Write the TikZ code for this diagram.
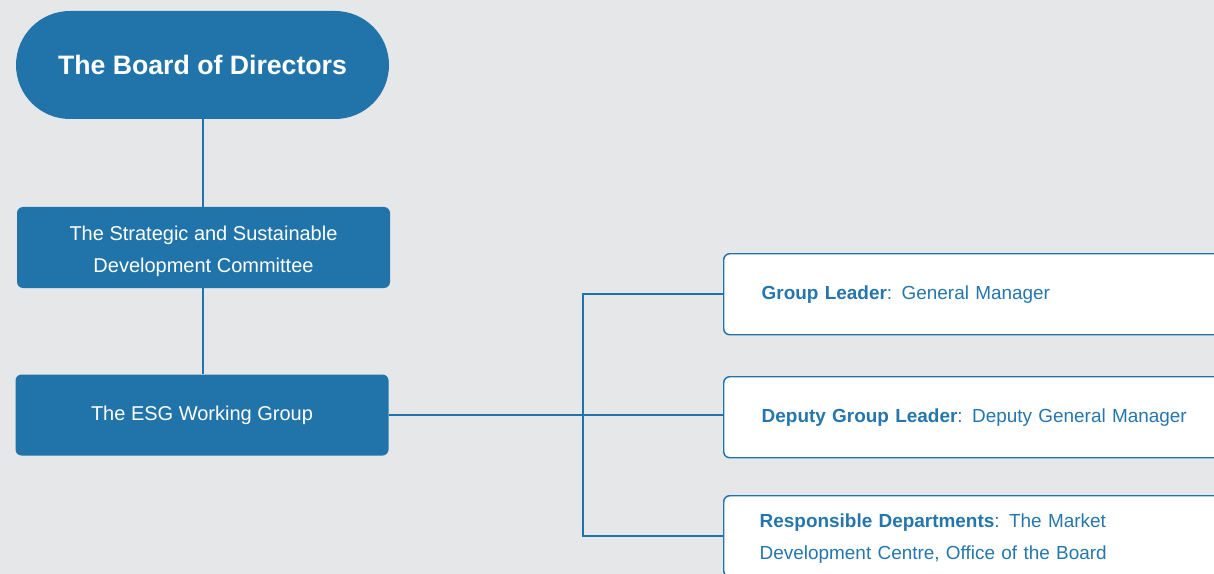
\documentclass[tikz,border=0pt]{standalone}
\usepackage{fontspec}
\setmainfont{Liberation Sans}

\definecolor{esgblue}{HTML}{2174A9}
\definecolor{esgback}{HTML}{E6E7E9}
\definecolor{esgtext}{HTML}{2576AC}

\def\px{0.75pt}

\tikzset{
  bluebox/.style={fill=esgblue, text=white, rounded corners=4.5pt, inner sep=0pt,
    minimum width=373*\px, minimum height=81*\px, align=center,
    font=\fontsize{15}{24}\selectfont},
  boardbox/.style={bluebox, rounded corners=40.5pt, minimum height=108*\px,
    font=\fontsize{20}{24}\selectfont\bfseries},
  rolebox/.style={draw=esgblue, line width=1.1pt, fill=white, text=esgtext,
    rounded corners=4.5pt, anchor=north west, inner xsep=38*\px, inner ysep=0pt,
    text width=484*\px, minimum height=81*\px, align=left,
    font=\fontsize{14.2}{23.5}\selectfont},
  link/.style={draw=esgblue, line width=1.5pt}
}

\begin{document}
\begin{tikzpicture}[x=\px,y=-\px]

  \clip (0,0) rectangle (1214,574);
  \fill[esgback] (0,0) rectangle (1214,574);

  \coordinate (fork) at (583,416);

  \node[boardbox] (board) at (202.5,65) {The Board of Directors};
  \node[bluebox] (committee) at (203.5,247.5) {\rule{0pt}{16pt}The Strategic and Sustainable\\Development Committee};
  \node[bluebox] (esg) at (202,415) {The ESG Working Group};

  \node[rolebox] (leader) at (723,253) {\textbf{Group Leader}: General Manager};
  \node[rolebox] (deputy) at (723,376) {\textbf{Deputy Group Leader}: Deputy General Manager};
  \node[rolebox, inner xsep=36*\px] (dept) at (723,495) {\rule{0pt}{14pt}\textbf{Responsible Departments}: The Market\\Development Centre, Office of the Board};

  \draw[link] (board.south) -- (board.south |- committee.north);
  \draw[link] (board.south |- committee.south) -- (board.south |- esg.north);

  \draw[link] (esg.east) -- (esg.east -| deputy.west);
  \draw[link] (leader.west) -- (fork |- leader.west) -- (fork |- dept.west) -- (dept.west);

\end{tikzpicture}
\end{document}
